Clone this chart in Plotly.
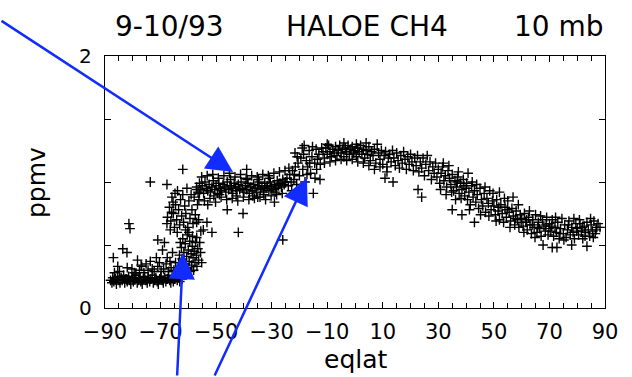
import plotly.graph_objects as go

# ---- data: (eqlat, CH4 ppmv) ----
sh_vortex_floor = [
    (-88.0,0.22),(-87.5,0.20),(-87.2,0.24),(-86.8,0.21),(-86.3,0.23),(-85.9,0.19),(-85.5,0.25),(-85.0,0.22),(-84.6,0.20),(-84.2,0.24),
    (-83.8,0.22),(-83.3,0.26),(-82.9,0.20),(-82.4,0.23),(-82.0,0.21),(-81.5,0.25),(-81.1,0.22),(-80.7,0.19),(-80.2,0.24),(-79.8,0.21),
    (-79.3,0.23),(-78.9,0.26),(-78.4,0.20),(-78.0,0.22),(-77.5,0.24),(-77.1,0.21),(-76.6,0.19),(-76.2,0.23),(-75.7,0.25),(-75.3,0.22),
    (-74.8,0.20),(-74.4,0.24),(-73.9,0.21),(-73.5,0.23),(-73.0,0.26),(-72.6,0.20),(-72.1,0.22),(-71.7,0.24),(-71.2,0.21),(-70.8,0.19),
    (-70.3,0.23),(-69.9,0.25),(-69.4,0.22),(-69.0,0.20),(-68.5,0.24),(-68.1,0.21),(-67.6,0.23),(-67.2,0.26),(-66.7,0.22),(-66.3,0.20),
    (-65.8,0.24),(-65.4,0.21),(-64.9,0.23),(-64.5,0.25),(-64.0,0.22),(-63.6,0.24),(-63.1,0.21),(-62.7,0.26),(-62.2,0.23),
]
sh_vortex_scatter = [
    (-87.0,0.40),(-85.4,0.33),(-83.6,0.47),(-82.1,0.44),(-82.0,0.32),(-81.4,0.67),(-81.0,0.63),(-79.5,0.28),(-78.3,0.38),(-77.6,0.30),
    (-76.8,0.33),(-76.0,0.28),(-75.2,0.35),(-74.5,0.30),(-73.7,0.37),(-73.0,0.31),(-72.3,0.29),(-71.5,0.40),(-71.0,0.33),(-70.4,0.36),
    (-69.8,0.29),(-69.3,0.46),(-68.9,0.31),(-68.6,0.52),(-68.0,0.35),(-67.6,0.40),(-67.1,0.29),(-66.6,0.37),(-66.2,0.32),(-65.7,0.44),
    (-65.2,0.30),(-64.6,0.36),(-71.0,0.54),(-86.6,0.28),(-84.8,0.29),(-80.3,0.31),(-78.9,0.27),(-77.0,0.34),
    (-73.7,1.00),(-67.7,0.98),(-62.0,1.10),(-67.7,0.67),(-66.0,0.76),(-65.5,0.84),(-64.8,0.91),
]
sh_edge_lower = [
    (-63.8,0.30),(-63.5,0.36),(-63.2,0.42),(-63.0,0.28),(-62.7,0.33),(-62.5,0.48),(-62.2,0.39),(-62.0,0.55),(-61.8,0.30),(-61.6,0.44),
    (-61.3,0.35),(-61.1,0.51),(-60.9,0.27),(-60.6,0.41),(-60.4,0.58),(-60.2,0.32),(-60.0,0.46),(-59.7,0.37),(-59.5,0.53),(-59.3,0.29),
    (-59.0,0.43),(-58.8,0.34),(-58.6,0.49),(-58.3,0.40),(-58.1,0.30),(-57.9,0.45),(-57.6,0.36),(-57.4,0.52),(-57.1,0.42),(-56.9,0.33),
    (-56.6,0.47),(-56.3,0.38),(-61.0,0.62),(-59.8,0.60),(-58.5,0.57),(-57.0,0.56),(-55.6,0.44),(-55.2,0.36),(-55.9,0.52),(-62.9,0.52),
]
sh_edge_upper = [
    (-67.5,0.72),(-66.8,0.80),(-66.3,0.69),(-65.9,0.88),(-65.4,0.75),(-65.0,0.64),(-64.6,0.82),(-64.2,0.70),(-63.9,0.93),(-63.5,0.78),
    (-63.1,0.66),(-62.8,0.86),(-62.4,0.73),(-62.0,0.90),(-61.7,0.68),(-61.3,0.81),(-60.9,0.75),(-60.5,0.95),(-60.2,0.64),(-59.8,0.85),
    (-59.4,0.71),(-59.0,0.90),(-58.7,0.78),(-58.3,0.67),(-57.9,0.88),(-57.5,0.74),(-57.1,0.94),(-56.7,0.82),(-56.3,0.70),(-56.0,0.91),
    (-57.0,0.68),(-55.5,0.61),(-54.6,0.62),(-53.3,0.68),(-51.5,0.60),(-64.0,0.60),(-66.5,0.62),
]
sh_surf_zone = [
    (-57.0,0.96),(-56.5,0.92),(-56.0,0.99),(-55.5,0.94),(-55.0,0.97),(-54.5,0.91),(-54.0,1.00),(-53.5,0.95),(-53.0,0.93),(-52.5,0.98),
    (-52.0,0.92),(-51.5,0.96),(-51.0,1.01),(-50.5,0.94),(-50.0,0.97),(-49.5,0.91),(-49.0,0.99),(-48.5,0.95),(-48.0,0.93),(-47.5,0.98),
    (-47.0,0.96),(-46.5,0.92),(-46.0,1.00),(-45.5,0.94),(-45.0,0.97),(-44.5,0.95),(-44.0,0.91),(-43.5,0.99),(-43.0,0.96),(-42.5,0.93),
    (-42.0,0.98),(-41.5,0.94),(-41.0,1.00),(-40.5,0.95),(-40.0,0.92),(-39.5,0.97),(-39.0,0.94),(-38.5,0.99),(-38.0,0.91),(-37.5,0.96),
    (-37.0,0.93),(-36.5,0.98),(-36.0,0.95),(-35.5,0.92),(-35.0,0.97),(-34.5,1.00),(-34.0,0.94),(-33.5,0.96),(-33.0,0.92),(-32.5,0.99),
    (-32.0,0.95),(-31.5,0.97),(-31.0,0.93),(-30.5,1.00),(-30.0,0.96),(-29.5,0.94),(-29.0,0.98),(-28.5,0.95),(-28.0,1.01),(-27.5,0.97),
    (-27.0,0.99),(-26.5,0.96),(-26.0,1.02),(-25.5,0.98),(-25.0,1.00),
    (-56.2,0.86),(-55.2,1.04),(-54.2,0.85),(-53.2,1.05),(-52.2,0.87),(-51.2,1.06),(-50.2,0.84),(-49.2,1.03),(-48.2,0.88),(-47.2,1.05),
    (-46.2,0.86),(-45.2,1.07),(-44.2,0.87),(-43.2,1.04),(-42.2,0.85),(-41.2,1.06),(-40.2,0.88),(-39.2,1.03),(-38.2,0.86),(-37.2,1.05),
    (-36.2,0.87),(-35.2,1.04),(-34.2,0.88),(-33.2,1.06),(-32.2,0.86),(-31.2,1.05),(-30.2,0.89),(-29.2,1.07),(-28.2,0.90),(-27.2,1.08),
    (-26.2,0.91),(-25.2,1.09),(-39.0,1.10),(-46.0,0.78),(-40.3,0.75),(-35.0,0.88),(-29.0,0.84),(-42.0,0.60),(-26.0,0.54),(-53.0,0.82),
    (-50.8,0.89),(-48.8,0.90),(-44.8,1.02),(-42.8,0.89),(-38.8,1.02),(-36.8,0.89),(-34.8,1.02),(-32.8,0.90),(-30.8,1.03),(-28.8,0.92),
]
subtropical_rise = [
    (-24.5,1.03),(-24.0,0.97),(-23.5,1.06),(-23.0,1.00),(-22.5,1.09),(-22.0,1.02),(-21.6,1.23),(-21.5,1.12),(-21.0,0.98),(-20.5,1.15),
    (-20.0,1.05),(-19.5,1.19),(-19.0,1.27),(-18.8,1.10),(-18.5,1.22),(-18.0,1.00),(-17.5,1.17),(-17.0,1.12),(-16.5,1.25),(-16.0,1.07),
    (-15.5,1.20),(-15.0,0.91),(-14.5,1.15),(-14.4,1.03),(-14.0,1.26),(-13.5,1.18),(-13.0,1.22),(-12.6,1.02),(-12.5,1.14),(-12.0,1.27),
    (-23.8,1.11),(-22.8,0.93),(-21.8,1.06),(-20.8,1.20),(-19.8,0.95),(-18.3,1.29),(-17.3,1.06),(-16.3,1.15),(-15.3,1.28),(-13.8,1.10),
]
tropics = [
    (-11.5,1.24),(-11.0,1.19),(-10.5,1.27),(-10.0,1.22),(-9.5,1.29),(-9.0,1.24),(-8.5,1.20),(-8.0,1.26),(-7.5,1.23),(-7.0,1.28),
    (-6.5,1.21),(-6.0,1.25),(-5.5,1.29),(-5.0,1.23),(-4.5,1.26),(-4.0,1.20),(-3.5,1.27),(-3.0,1.24),(-2.5,1.29),(-2.0,1.22),
    (-1.5,1.26),(-1.0,1.28),(-0.5,1.23),(0.0,1.25),(0.5,1.20),(1.0,1.27),(1.5,1.24),(2.0,1.29),(2.5,1.22),(3.0,1.26),
    (3.5,1.19),(4.0,1.25),(4.5,1.22),(5.0,1.28),(5.5,1.17),(6.0,1.24),(6.5,1.21),(7.0,1.26),(7.5,1.15),(8.0,1.30),
    (8.5,1.23),(9.0,1.18),(9.5,1.25),(10.0,1.14),(10.5,1.21),(11.0,1.24),(11.5,1.12),(12.0,1.19),
    (-11.0,1.15),(-9.0,1.16),(-7.0,1.17),(-5.0,1.18),(-3.0,1.17),(-1.0,1.18),(1.0,1.16),(3.0,1.15),(5.0,1.13),(7.0,1.10),
    (9.0,1.12),(10.8,1.03),(11.5,1.08),(-10.0,1.30),(-4.0,1.31),(0.5,1.30),(4.0,1.31),
]
nh_midlat = [
    (12.5,1.22),(13.0,1.16),(13.5,1.25),(13.7,1.00),(14.0,1.19),(14.5,1.13),(15.0,1.23),(15.5,1.17),(16.0,1.11),(16.5,1.21),
    (17.0,1.15),(17.5,1.24),(18.0,1.18),(18.5,1.10),(19.0,1.20),(19.5,1.14),(20.0,1.22),(20.5,1.16),(21.0,1.09),(21.5,1.19),
    (22.0,1.13),(22.5,1.21),(22.7,0.94),(23.0,1.08),(23.5,1.16),(24.0,1.11),(24.0,0.88),(24.5,1.19),(25.0,1.05),(25.5,1.14),
    (26.0,1.21),(26.5,1.09),(27.0,1.16),(27.5,1.02),(28.0,1.12),(28.5,1.07),(29.0,1.15),(29.5,1.04),(30.0,1.10),(30.5,0.99),
    (31.0,1.07),(31.5,1.12),(32.0,1.01),(32.5,1.05),(33.0,0.96),(33.5,1.09),(34.0,1.03),(34.5,0.98),(35.0,0.78),(35.0,1.06),
    (35.5,0.93),(36.0,1.01),(36.5,0.96),(37.0,1.04),(37.5,0.91),(38.0,0.99),(38.5,0.74),(38.5,0.94),(39.0,1.02),(39.5,0.89),
    (30.8,0.94),(31.8,1.15),(32.8,0.90),(33.8,1.13),(34.8,0.92),(36.2,0.86),(37.2,1.08),(38.2,0.87),(39.2,0.97),(36.8,1.00),
    (40.0,0.95),(40.5,0.86),(40.7,1.07),(41.0,0.92),(41.5,0.82),(42.0,0.97),(42.5,0.88),(43.0,0.68),(43.0,0.93),(43.5,0.84),
    (44.0,0.90),(44.5,0.79),(45.0,0.95),(45.5,0.86),(46.0,0.81),(46.5,0.91),(47.0,0.76),(47.5,0.87),(48.0,0.83),(48.5,0.93),
    (49.0,0.78),(49.5,0.85),(40.2,0.99),(41.2,0.78),(42.2,1.00),(43.8,0.98),(45.2,0.74),(46.8,0.96),(48.2,0.73),(49.7,0.91),
]
nh_high = [
    (50.0,0.81),(50.5,0.74),(51.0,0.86),(51.5,0.77),(52.0,0.92),(52.0,0.70),(52.5,0.82),(53.0,0.75),(53.5,0.68),(54.0,0.80),
    (54.5,0.72),(55.0,0.85),(55.5,0.76),(56.0,0.69),(56.5,0.79),(56.9,0.88),(57.0,0.73),(57.5,0.66),(58.0,0.77),(58.5,0.70),
    (59.0,0.64),(59.5,0.74),(50.8,0.69),(53.8,0.87),(55.8,0.64),(58.8,0.82),(51.8,0.80),(54.8,0.78),(57.8,0.71),(59.8,0.68),
    (60.0,0.71),(60.5,0.65),(61.0,0.75),(61.5,0.68),(62.0,0.62),(62.5,0.72),(63.0,0.66),(63.5,0.59),(64.0,0.70),(64.5,0.64),
    (65.0,0.74),(65.5,0.60),(66.0,0.68),(66.5,0.63),(67.0,0.57),(67.5,0.70),(67.7,0.50),(68.0,0.65),(68.5,0.61),(69.0,0.72),
    (69.5,0.58),(60.8,0.60),(62.8,0.77),(64.8,0.56),(66.8,0.73),(68.8,0.66),(61.8,0.70),(63.8,0.66),(65.8,0.64),(69.8,0.63),
    (70.0,0.67),(70.5,0.61),(71.0,0.48),(71.0,0.70),(71.5,0.57),(72.0,0.64),(72.7,0.48),(72.5,0.60),(73.0,0.68),(73.5,0.55),
    (74.0,0.63),(74.5,0.71),(75.0,0.59),(75.5,0.66),(76.0,0.56),(76.5,0.62),(77.0,0.69),(77.5,0.58),(78.0,0.50),(78.0,0.64),
    (78.5,0.60),(79.0,0.55),(79.5,0.67),(70.8,0.65),(72.2,0.72),(73.8,0.59),(75.2,0.54),(76.8,0.66),(78.8,0.71),(79.8,0.61),
    (80.0,0.63),(80.5,0.58),(81.0,0.67),(81.5,0.61),(82.0,0.55),(82.5,0.65),(83.0,0.60),(83.5,0.49),(83.5,0.68),(84.0,0.62),
    (84.5,0.57),(85.0,0.66),(85.5,0.61),(86.0,0.69),(86.5,0.59),(87.0,0.64),(87.5,0.67),(88.2,0.64),(80.8,0.70),(82.8,0.57),
    (84.8,0.71),(86.8,0.62),(81.8,0.64),(85.8,0.56),
]

x_tick_values = [-90, -70, -50, -30, -10, 10, 30, 50, 70, 90]
y_tick_values = [0, 2]
title_parts = ["9-10/93", "HALOE CH4", "10 mb"]

# arrow tips (eqlat, ppmv) and tail offsets in pixels
arrow_tips = [(-43.9, 1.08), (-61.9, 0.437), (-17.3, 1.032)]
arrow_tails_px = [(-236, -152), (-6, 126), (-93, 201)]

segments = [sh_vortex_floor, sh_vortex_scatter, sh_edge_lower, sh_edge_upper,
            sh_surf_zone, subtropical_rise, tropics, nh_midlat, nh_high]
pts = [p for seg in segments for p in seg]
eqlat = [p[0] for p in pts]
ch4 = [p[1] for p in pts]

FONT = "DejaVu Sans"
BLUE = "rgb(18,44,255)"

fig = go.Figure()
fig.add_trace(go.Scatter(
    x=eqlat, y=ch4, mode="markers",
    marker=dict(symbol="cross-thin", size=7, color="black",
                line=dict(color="black", width=1.4)),
    showlegend=False, hoverinfo="skip",
))

axis_common = dict(showgrid=False, zeroline=False, showline=True, linecolor="black",
                   linewidth=1.3, mirror="ticks", ticks="inside", tickcolor="black",
                   tickwidth=1)
fig.update_xaxes(range=[-90, 90], tickmode="array", tickvals=x_tick_values,
                 ticklen=6, tickfont=dict(family=FONT, size=21, color="black"),
                 ticklabelstandoff=5,
                 minor=dict(tick0=-90, dtick=5, ticks="inside", ticklen=5,
                            tickcolor="black", tickwidth=1),
                 **axis_common)
fig.update_yaxes(range=[0, 2], tickmode="array", tickvals=y_tick_values,
                 ticklen=6, tickfont=dict(family=FONT, size=20, color="black"),
                 ticklabelstandoff=8,
                 minor=dict(tickvals=[0.5, 1.0, 1.5], ticks="inside", ticklen=6,
                            tickcolor="black", tickwidth=1),
                 **axis_common)

annotations = []
title_x = [0.016, 0.358, 0.814]
for txt, xp in zip(title_parts, title_x):
    annotations.append(dict(text=txt, xref="paper", yref="paper", x=xp, y=1.119,
                            xanchor="left", yanchor="middle", showarrow=False,
                            font=dict(family=FONT, size=28, color="black")))
annotations.append(dict(text="ppmv", xref="paper", yref="paper", x=-0.138, y=0.496,
                        xanchor="center", yanchor="middle",
                        textangle=-90, showarrow=False,
                        font=dict(family=FONT, size=25, color="black")))
annotations.append(dict(text="eqlat", xref="paper", yref="paper", x=0.502, y=-0.205,
                        xanchor="center", yanchor="middle", showarrow=False,
                        font=dict(family=FONT, size=25, color="black")))
for (tx, ty), (ax, ay) in zip(arrow_tips, arrow_tails_px):
    annotations.append(dict(text="", x=tx, y=ty, xref="x", yref="y", ax=ax, ay=ay,
                            showarrow=True, arrowhead=2, arrowsize=2.1,
                            arrowwidth=2.5, arrowcolor=BLUE, standoff=0))

fig.update_layout(
    width=632, height=377,
    margin=dict(l=105, r=27, t=56, b=69),
    paper_bgcolor="white", plot_bgcolor="white",
    annotations=annotations,
)

fig.write_html("out.html")
